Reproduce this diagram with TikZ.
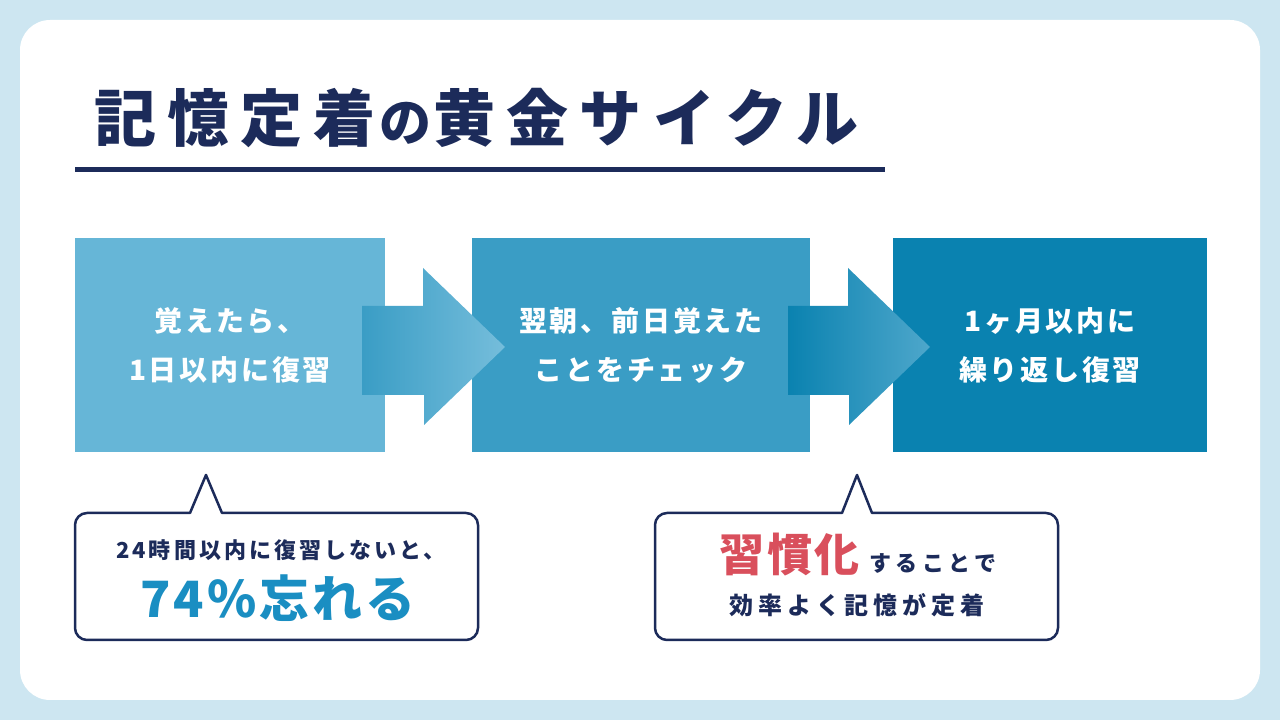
\documentclass[tikz,border=0pt]{standalone}
\usepackage{fontspec}
\newfontfamily\jptitle[LetterSpace=18]{Noto Sans CJK JP}
\newfontfamily\jpbox[LetterSpace=10]{Noto Sans CJK JP}
\newfontfamily\jpcall[LetterSpace=14]{Noto Sans CJK JP}
\newfontfamily\jpcallw[LetterSpace=20]{Noto Sans CJK JP}
\newfontfamily\jpbig[LetterSpace=6]{Noto Sans CJK JP}
\definecolor{bgblue}{HTML}{CDE6F1}
\definecolor{navy}{HTML}{1C2B5A}
\definecolor{boxA}{HTML}{66B6D7}
\definecolor{boxB}{HTML}{3A9DC5}
\definecolor{boxC}{HTML}{0A82B0}
\definecolor{bigblue}{HTML}{1A8EC2}
\definecolor{red}{HTML}{D94F5C}
\tikzset{
  stepbox/.style={draw=none, minimum width=#1, minimum height=214pt, inner sep=0pt, text=white, align=center, font=\fontsize{28}{49}\selectfont\jpbox\bfseries},
  callout/.style={draw=navy, line width=2.5pt, fill=white, line join=round},
  txt/.style={inner sep=0pt, text=navy},
}
\begin{document}
\begin{tikzpicture}[x=1pt,y=1pt]
\useasboundingbox (0,0) rectangle (1280,720);
\fill[bgblue] (0,0) rectangle (1280,720);
\fill[white, rounded corners=30pt] (20,20) rectangle (1260,700);
% title
\node[txt, anchor=west, font=\fontsize{62}{62}\selectfont\jptitle\bfseries] (title) at (94,602) {記憶定着\hspace{4pt}{\fontsize{52}{52}\selectfont の}\hspace{2pt}黄金サイクル};
\draw[navy, line width=5pt] (75,550) -- (885,550);
% boxes
\node[stepbox=310pt, fill=boxA] (b1) at (230,375) {覚えたら、\\1日以内に復習};
\node[stepbox=338pt, fill=boxB] (b2) at (641,375) {翌朝、前日覚えた\\ことをチェック};
\node[stepbox=314pt, fill=boxC] (b3) at (1050,375) {1ヶ月以内に\\繰り返し復習};
% arrows
\shade[left color=boxB, right color=boxA!90!white]
  (362,414) -- (423,414) -- (423,452) -- (505,373) -- (424,295) -- (424,325) -- (362,325) -- cycle;
\shade[left color=boxC, right color=boxB!90!white]
  (788,414) -- (848,414) -- (848,452) -- (930,373) -- (849,295) -- (849,325) -- (788,325) -- cycle;
% callout 1
\draw[callout] (222,207) -- (466,207) arc[start angle=90,end angle=0,radius=12] -- (478,92) arc[start angle=0,end angle=-90,radius=12] -- (87,80) arc[start angle=270,end angle=180,radius=12] -- (75,195) arc[start angle=180,end angle=90,radius=12] -- (190,207) -- (206,245) -- cycle;
\node[txt, font=\fontsize{22}{22}\selectfont\jpcall\bfseries] (c1a) at (281,170) {24時間以内に復習しないと、};
\node[txt, text=bigblue, font=\fontsize{50}{50}\selectfont\jpbig\bfseries] (c1b) at (278,122) {74\%忘れる};
% callout 2
\draw[callout] (872,207) -- (1046,207) arc[start angle=90,end angle=0,radius=12] -- (1058,92) arc[start angle=0,end angle=-90,radius=12] -- (667,80) arc[start angle=270,end angle=180,radius=12] -- (655,195) arc[start angle=180,end angle=90,radius=12] -- (842,207) -- (857,245) -- cycle;
\node[txt, font=\fontsize{22}{22}\selectfont\jpcallw\bfseries] (c2a) at (858,165) {{\color{red}\fontsize{45}{45}\selectfont\jpbig 習慣化} することで};
\node[txt, font=\fontsize{24}{24}\selectfont\jpcallw\bfseries] (c2b) at (857,115) {効率よく記憶が定着};
\end{tikzpicture}
\end{document}
